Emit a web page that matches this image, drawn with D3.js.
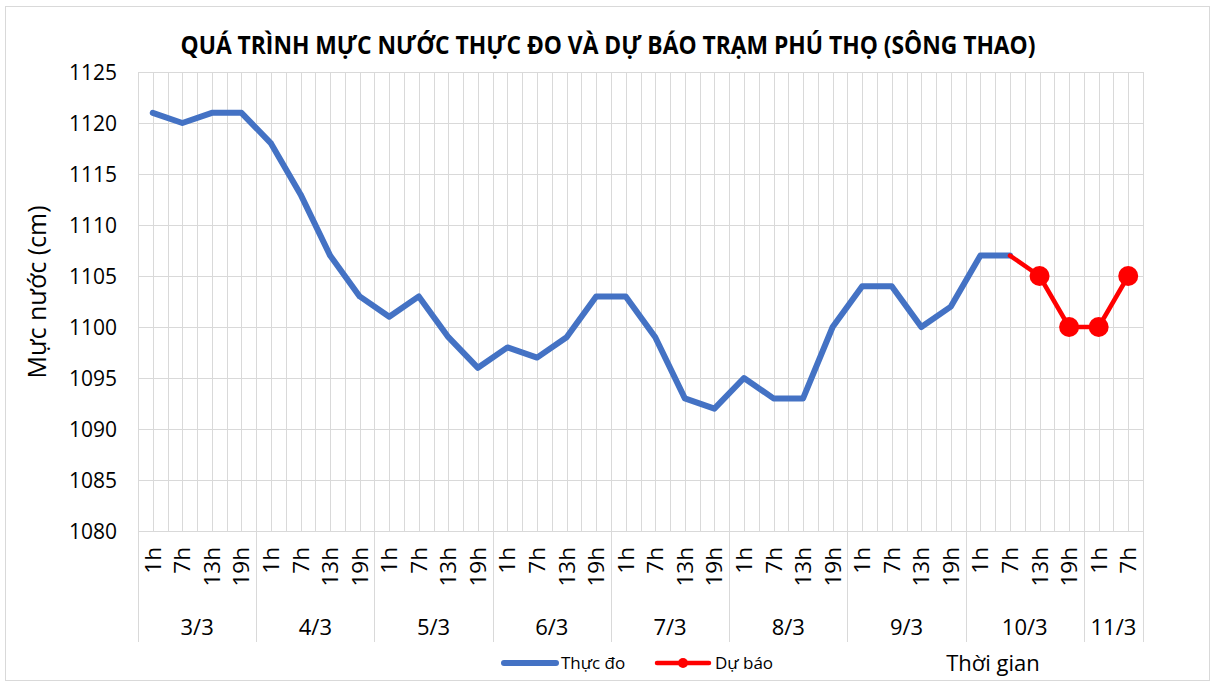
<!DOCTYPE html>
<html>
<head>
<meta charset="utf-8">
<title>Mực nước Phú Thọ</title>
<script src="https://d3js.org/d3.v7.min.js"></script>
<style>
body { margin: 0; background: #fff; }
svg text { font-family: "Open Sans", "Noto Sans", sans-serif; fill: #000; }
.grid line { stroke: #d9d9d9; stroke-width: 1; shape-rendering: crispEdges; }
</style>
</head>
<body>
<svg width="1215" height="682"></svg>
<script>
// category axis: days and hours
var days = ["3/3", "4/3", "5/3", "6/3", "7/3", "8/3", "9/3", "10/3", "11/3"];
var dayHours = [
  ["1h", "7h", "13h", "19h"],
  ["1h", "7h", "13h", "19h"],
  ["1h", "7h", "13h", "19h"],
  ["1h", "7h", "13h", "19h"],
  ["1h", "7h", "13h", "19h"],
  ["1h", "7h", "13h", "19h"],
  ["1h", "7h", "13h", "19h"],
  ["1h", "7h", "13h", "19h"],
  ["1h", "7h"]
];

// observed water level (cm), one per category from 3/3 1h
var observed = [
  1121, 1120, 1121, 1121,
  1118, 1113, 1107, 1103,
  1101, 1103, 1099, 1096,
  1098, 1097, 1099, 1103,
  1103, 1099, 1093, 1092,
  1095, 1093, 1093, 1100,
  1104, 1104, 1100, 1102,
  1107, 1107
];

// forecast starts at 10/3 7h (index 29)
var forecastStart = 29;
var forecast = [1107, 1105, 1100, 1100, 1105];
var forecastMarker = [false, true, true, true, true];

var yTicks = [1080, 1085, 1090, 1095, 1100, 1105, 1110, 1115, 1120, 1125];

// build flat category list
var cats = [];
dayHours.forEach(function(hs, di) {
  hs.forEach(function(h) { cats.push({ id: di + "-" + h, hour: h, day: di }); });
});

var svg = d3.select("svg");
var pLeft = 138, pRight = 1143, pTop = 72, pBottom = 531;

// outer frame
svg.append("rect")
  .attr("x", 5.5).attr("y", 6.5)
  .attr("width", 1204).attr("height", 674)
  .attr("fill", "none").attr("stroke", "#d9d9d9");

var x = d3.scaleBand()
  .domain(cats.map(function(d) { return d.id; }))
  .range([pLeft, pRight])
  .paddingInner(0).paddingOuter(0);
var bw = x.bandwidth();

var y = d3.scaleLinear().domain([1080, 1125]).range([pBottom, pTop]);

// grid
var grid = svg.append("g").attr("class", "grid");
grid.selectAll("line.h")
  .data(yTicks)
  .enter().append("line")
  .attr("x1", pLeft).attr("x2", pRight)
  .attr("y1", function(d) { return Math.round(y(d)) + 0.5; })
  .attr("y2", function(d) { return Math.round(y(d)) + 0.5; });

var halves = [];
cats.forEach(function(c) { halves.push(x(c.id)); halves.push(x(c.id) + bw / 2); });
halves.push(pRight);
grid.selectAll("line.v")
  .data(halves)
  .enter().append("line")
  .attr("x1", function(d) { return Math.round(d) + 0.5; })
  .attr("x2", function(d) { return Math.round(d) + 0.5; })
  .attr("y1", pTop).attr("y2", pBottom);

// y axis labels
svg.append("g")
  .selectAll("text")
  .data(yTicks)
  .enter().append("text")
  .attr("x", 117)
  .attr("y", function(d) { return y(d); })
  .attr("dy", "0.36em")
  .attr("text-anchor", "end")
  .style("font-size", "21px")
  .text(function(d) { return d; });

// category axis: day separators
var sepX = [pLeft];
var idx = 0;
dayHours.forEach(function(hs) { idx += hs.length; sepX.push(x(cats[idx - 1].id) + bw); });
svg.append("g").attr("class", "grid")
  .selectAll("line")
  .data(sepX)
  .enter().append("line")
  .attr("x1", function(d) { return Math.round(d) + 0.5; })
  .attr("x2", function(d) { return Math.round(d) + 0.5; })
  .attr("y1", pBottom).attr("y2", 642);

// hour labels (rotated)
svg.append("g")
  .selectAll("text")
  .data(cats)
  .enter().append("text")
  .attr("transform", function(d) {
    return "translate(" + (x(d.id) + bw / 2 + 8) + ",547) rotate(-90)";
  })
  .attr("text-anchor", "end")
  .style("font-size", "22.5px")
  .text(function(d) { return d.hour; });

// day labels
svg.append("g")
  .selectAll("text")
  .data(days)
  .enter().append("text")
  .attr("x", function(d, i) { return (sepX[i] + sepX[i + 1]) / 2; })
  .attr("y", 635)
  .attr("text-anchor", "middle")
  .style("font-size", "22px")
  .text(function(d) { return d; });

// observed line
var obsData = observed.map(function(v, i) { return { id: cats[i].id, v: v }; });
var line = d3.line()
  .x(function(d) { return x(d.id) + bw / 2; })
  .y(function(d) { return y(d.v); });

svg.append("path")
  .datum(obsData)
  .attr("fill", "none")
  .attr("stroke", "#4472c4")
  .attr("stroke-width", 6)
  .attr("stroke-linejoin", "round")
  .attr("stroke-linecap", "round")
  .attr("d", line);

// forecast line
var fcData = forecast.map(function(v, i) {
  return { id: cats[forecastStart + i].id, v: v, m: forecastMarker[i] };
});
svg.append("path")
  .datum(fcData)
  .attr("fill", "none")
  .attr("stroke", "#ff0000")
  .attr("stroke-width", 4.5)
  .attr("stroke-linejoin", "round")
  .attr("stroke-linecap", "round")
  .attr("d", line);

svg.append("g")
  .selectAll("circle")
  .data(fcData.filter(function(d) { return d.m; }))
  .enter().append("circle")
  .attr("cx", function(d) { return x(d.id) + bw / 2; })
  .attr("cy", function(d) { return y(d.v); })
  .attr("r", 10)
  .attr("fill", "#ff0000");

// title
svg.append("text")
  .attr("x", 608).attr("y", 54)
  .attr("text-anchor", "middle")
  .attr("textLength", 855)
  .attr("lengthAdjust", "spacingAndGlyphs")
  .style("font-size", "25px")
  .style("font-weight", "bold")
  .text("QUÁ TRÌNH MỰC NƯỚC THỰC ĐO VÀ DỰ BÁO TRẠM PHÚ THỌ (SÔNG THAO)");

// y axis title
svg.append("text")
  .attr("transform", "translate(46,292) rotate(-90)")
  .attr("text-anchor", "middle")
  .style("font-size", "25px")
  .text("Mực nước (cm)");

// x axis title
svg.append("text")
  .attr("x", 993).attr("y", 671)
  .attr("text-anchor", "middle")
  .style("font-size", "22px")
  .text("Thời gian");

// legend
var legend = svg.append("g");
legend.append("line")
  .attr("x1", 504).attr("x2", 556).attr("y1", 663).attr("y2", 663)
  .attr("stroke", "#4472c4").attr("stroke-width", 6).attr("stroke-linecap", "round");
legend.append("text")
  .attr("x", 561).attr("y", 669)
  .style("font-size", "17px")
  .text("Thực đo");
legend.append("line")
  .attr("x1", 657).attr("x2", 709).attr("y1", 663).attr("y2", 663)
  .attr("stroke", "#ff0000").attr("stroke-width", 4.5).attr("stroke-linecap", "round");
legend.append("circle")
  .attr("cx", 683).attr("cy", 663).attr("r", 5)
  .attr("fill", "#ff0000");
legend.append("text")
  .attr("x", 715).attr("y", 669)
  .style("font-size", "17px")
  .text("Dự báo");
</script>
</body>
</html>
